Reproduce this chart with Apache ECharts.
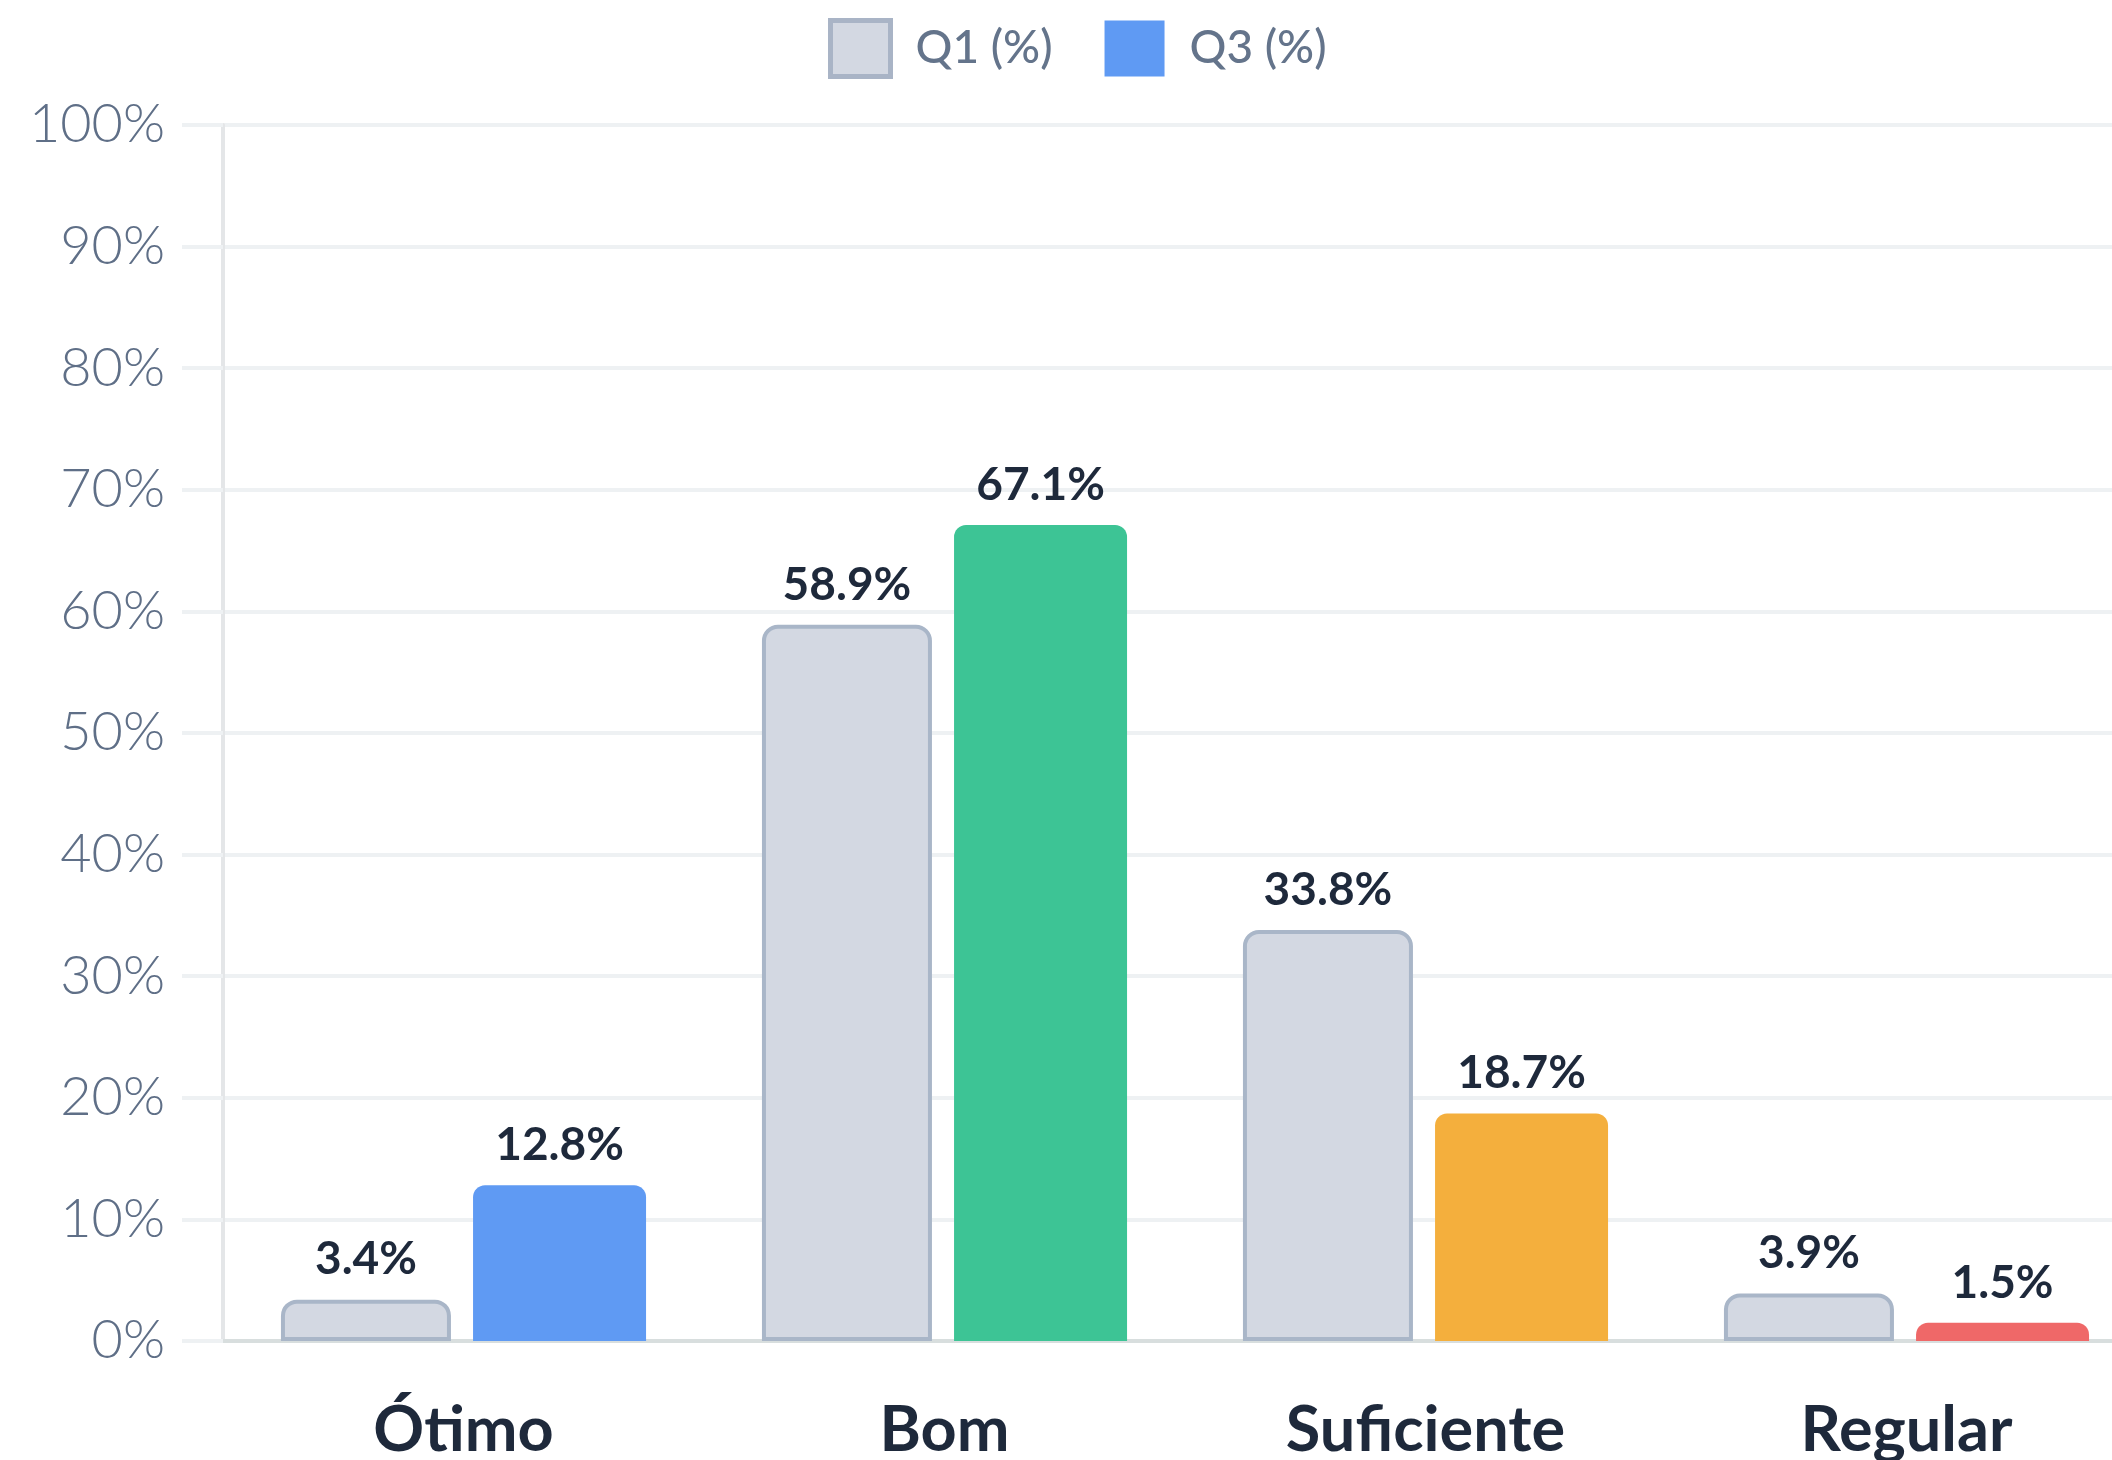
<!DOCTYPE html>
<html>
<head>
<meta charset="utf-8">
<script src="https://cdn.jsdelivr.net/npm/echarts@6/dist/echarts.min.js"></script>
<style>
  html, body { margin: 0; padding: 0; background: #fff; }
  #chart { width: 2112px; height: 1460px; }
</style>
</head>
<body>
<div id="chart"></div>
<script>
const categories = ['Ótimo', 'Bom', 'Suficiente', 'Regular'];
const q1Values = [3.4, 58.9, 33.8, 3.9];
const q3Values = [12.8, 67.1, 18.7, 1.5];
const q3Colors = ['#5f9af3', '#3dc495', '#f4af3d', '#ef6868'];
const yTicks = [0, 10, 20, 30, 40, 50, 60, 70, 80, 90, 100];

const font = 'Lato';

const chart = echarts.init(document.getElementById('chart'));
chart.setOption({
  animation: false,
  textStyle: { fontFamily: font },
  legend: {
    top: 13,
    left: 823,
    itemWidth: 60,
    itemHeight: 56,
    itemGap: 52,
    icon: 'rect',
    textStyle: {
      color: '#64748b',
      fontSize: 46,
      fontWeight: 500,
      padding: [0, 0, 0, 20]
    },
    data: [
      { name: 'Q1 (%)', itemStyle: { color: '#d3d8e2', borderColor: '#a9b4c6', borderWidth: 5 } },
      { name: 'Q3 (%)', itemStyle: { color: '#5f9af3', borderWidth: 0 } }
    ]
  },
  grid: {
    left: 223,
    top: 125,
    width: 1924,
    bottom: 119,
    outerBoundsMode: 'none'
  },
  xAxis: {
    type: 'category',
    data: categories,
    axisTick: { show: false },
    axisLine: { lineStyle: { color: '#d8dede', width: 4 } },
    axisLabel: {
      color: '#1e293b',
      fontSize: 63,
      fontWeight: 'bold',
      margin: 58
    }
  },
  yAxis: {
    type: 'value',
    min: yTicks[0],
    max: yTicks[yTicks.length - 1],
    interval: 10,
    axisLine: { show: true, lineStyle: { color: '#e4e6e8', width: 4 } },
    axisTick: { show: true, length: 41, lineStyle: { color: '#eef1f3', width: 4 } },
    splitLine: { lineStyle: { color: '#eef1f3', width: 4 } },
    axisLabel: {
      color: '#5f6f87',
      fontSize: 54,
      fontWeight: 300,
      margin: 58,
      formatter: '{value}%'
    }
  },
  series: [
    {
      name: 'Q1 (%)',
      type: 'bar',
      data: q1Values,
      barWidth: 170,
      barGap: '13%',
      itemStyle: {
        color: '#d3d8e2',
        borderColor: '#a9b6c8',
        borderWidth: 4,
        borderRadius: [14, 14, 0, 0]
      },
      label: {
        show: true,
        position: 'top',
        distance: 17,
        color: '#1e293b',
        fontSize: 46,
        fontWeight: 'bold',
        formatter: p => p.value + '%'
      }
    },
    {
      name: 'Q3 (%)',
      type: 'bar',
      barWidth: 173,
      data: q3Values.map((v, i) => ({ value: v, itemStyle: { color: q3Colors[i] } })),
      itemStyle: {
        color: '#5f9af3',
        borderRadius: [12, 12, 0, 0]
      },
      label: {
        show: true,
        position: 'top',
        distance: 17,
        color: '#1e293b',
        fontSize: 46,
        fontWeight: 'bold',
        formatter: p => p.value + '%'
      }
    }
  ]
});
</script>
</body>
</html>
